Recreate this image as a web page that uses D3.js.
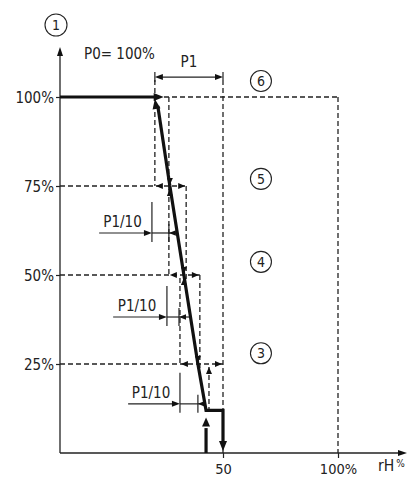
<!DOCTYPE html>
<html>
<head>
<meta charset="utf-8">
<script src="https://cdn.jsdelivr.net/npm/d3@7"></script>
<style>
  body { margin: 0; background: #fff; }
  svg { display: block; }
  text { font-family: "DejaVu Sans Condensed", "Liberation Sans Narrow", sans-serif; fill: #222; }
</style>
</head>
<body>
<div id="chart"></div>
<script>
// output levels (%) where the stages switch
const levels = [100, 75, 50, 25];
const lowStep = 12;
// hysteresis band of each stage, in rH %
const bandLeft = [29.1, 33.4, 36.8, 45.7];
const bandRight = [33.4, 38.7, 42.9, 50];
// control line  [rH, output]
const mainLine = [[29.1, 100], [33.7, 75], [38, 50], [42.3, 25], [44.8, 12]];
const stepLine = [[44.8, 12], [50, 12], [50, 0]];
const riseLine = [[44.8, 0], [44.8, 10]];
const topLine = [[0, 100], [31.8, 100]];
// P1 band
const p1Start = 29.1, p1End = 50, p1Level = 105.6;
// P1/10 marks
const p10Levels = [61.8, 38.2, 13.8];
const p10From = [12, 16.3, 20.9];
const p10Tick = [28.2, 32.8, 36.8];
const p10Tick2 = [33.4, 36.5, 42.3];
const p10To = [35.9, 39.9, 44.5];
// circled zone numbers
const zoneNames = ["6", "5", "4", "3"];
const zoneLevels = [104.5, 77, 53.7, 28];
const zoneRH = 66.5;
// axis ticks
const yTicks = [100, 75, 50, 25];
const yTickLabels = ["100%", "75%", "50%", "25%"];
const xTicks = [50, 100];
const xTickLabels = ["50", "100%"];

const width = 408, height = 479;

let svg = d3.select("#chart").append("svg")
  .attr("width", width)
  .attr("height", height);

// schematic axis: 0-50 and 50-100 are not drawn to the same length
let x = d3.scaleLinear().domain([0, 50, 100]).range([60, 223, 338]);
let y = d3.scaleLinear().domain([0, 100]).range([453, 97]);

let line = d3.line().x(d => x(d[0])).y(d => y(d[1]));

function head(tx, ty, ang, len, hw) {
  // arrow head with its tip at (tx,ty), pointing along ang (radians)
  let c = Math.cos(ang), s = Math.sin(ang);
  let bx = tx - c * len, by = ty - s * len;
  return "M" + tx + "," + ty +
    "L" + (bx - s * hw) + "," + (by + c * hw) +
    "L" + (bx + s * hw) + "," + (by - c * hw) + "Z";
}
const R = 0, L = Math.PI, D = Math.PI / 2, U = -Math.PI / 2;

function arrow(tx, ty, ang, len, hw) {
  svg.append("path").attr("d", head(tx, ty, ang, len, hw)).attr("fill", "#111");
}

function dashed(x1, y1, x2, y2) {
  svg.append("line")
    .attr("x1", x1).attr("y1", y1).attr("x2", x2).attr("y2", y2)
    .attr("stroke", "#222").attr("stroke-width", 1.3)
    .attr("stroke-dasharray", "5,3");
}
function solid(x1, y1, x2, y2, w) {
  svg.append("line")
    .attr("x1", x1).attr("y1", y1).attr("x2", x2).attr("y2", y2)
    .attr("stroke", "#222").attr("stroke-width", w || 1.2);
}

// ---- dashed guide lines
dashed(x(0), y(100), x(100), y(100));
for (let i = 1; i < levels.length; i++) {
  dashed(x(0), y(levels[i]), x(bandRight[i]), y(levels[i]));
}
for (let i = 0; i < levels.length; i++) {
  let top = i == 0 ? p1Level : levels[i];
  let bottom = i + 1 < levels.length ? levels[i + 1] : lowStep;
  dashed(x(bandLeft[i]), y(top) + 3, x(bandLeft[i]), y(bottom));
  if (i < levels.length - 1) {
    dashed(x(bandRight[i]), y(levels[i]), x(bandRight[i]), y(levels[i + 1]) + 4);
  }
}
dashed(x(p1End), y(p1Level) + 3, x(p1End), y(0));
dashed(x(100), y(100), x(100), y(0));

// ---- axes
solid(x(0), y(0), x(0), 52, 1.3);
arrow(x(0), 47, U, 9, 3);
solid(x(0), y(0), 401, y(0), 1.3);
arrow(407, y(0), R, 9, 3);

let yAxis = svg.append("g")
  .attr("transform", "translate(" + x(0) + ",0)")
  .call(d3.axisLeft(y).tickValues(yTicks).tickSize(4).tickPadding(2)
    .tickFormat((d, i) => yTickLabels[i]));
yAxis.select(".domain").remove();
yAxis.selectAll("line").attr("stroke", "#222").attr("stroke-width", 1.2);
yAxis.selectAll("text").attr("font-size", 15).attr("dy", "0.36em")
  .attr("font-family", null);

let xAxis = svg.append("g")
  .attr("transform", "translate(0," + y(0) + ")")
  .call(d3.axisBottom(x).tickValues(xTicks).tickSize(5).tickPadding(6)
    .tickFormat((d, i) => xTickLabels[i]));
xAxis.select(".domain").remove();
xAxis.selectAll("line").attr("stroke", "#222").attr("stroke-width", 1.2);
xAxis.selectAll("text").attr("font-size", 14.5).attr("font-family", null);

svg.append("text").attr("x", 378).attr("y", 471).attr("font-size", 15.5).text("rH")
  .append("tspan").attr("font-size", 10).attr("dx", 2).attr("dy", -4).text("%");

// ---- circled labels
function circled(cx, cy, r, label) {
  svg.append("circle").attr("cx", cx).attr("cy", cy).attr("r", r)
    .attr("fill", "none").attr("stroke", "#222").attr("stroke-width", 1.1);
  svg.append("text").attr("x", cx).attr("y", cy).attr("dy", "0.36em")
    .attr("text-anchor", "middle").attr("font-size", 14).text(label);
}
circled(56, 25, 11, "1");
zoneNames.forEach((n, i) => circled(x(zoneRH), y(zoneLevels[i]), 10.5, n));

svg.append("text").attr("x", 84).attr("y", 59).attr("font-size", 15).text("P0= 100%");

// ---- P1 dimension
let p1y = y(p1Level);
solid(x(p1Start), p1y - 5, x(p1Start), p1y + 5);
solid(x(p1End), p1y - 5, x(p1End), p1y + 3);
solid(x(p1Start) + 6, p1y, x(p1End) - 6, p1y);
arrow(x(p1Start), p1y, L, 8, 3);
arrow(x(p1End), p1y, R, 8, 3);
svg.append("text").attr("x", (x(p1Start) + x(p1End)) / 2).attr("y", p1y - 10)
  .attr("text-anchor", "middle").attr("font-size", 15).text("P1");

// ---- P1/10 marks
p10Levels.forEach((lv, i) => {
  let ly = y(lv);
  solid(x(p10From[i]), ly, x(p10Tick[i]) - 6, ly);
  arrow(x(p10Tick[i]), ly, R, 8, 3);
  solid(x(p10Tick[i]), ly - 31, x(p10Tick[i]), ly + 9);
  solid(x(p10Tick[i]), ly, x(p10To[i]), ly);
  solid(x(p10Tick2[i]), ly - 9, x(p10Tick2[i]), ly + 9);
  arrow(x(p10Tick2[i]), ly, L, 7, 2.8);
  svg.append("text").attr("x", (x(p10From[i]) + x(p10Tick[i])) / 2 - 3).attr("y", ly - 6)
    .attr("text-anchor", "middle").attr("font-size", 15).text("P1/10");
});

// ---- small hysteresis arrows at each switch level
function mainX(lv) {
  for (let i = 0; i < mainLine.length - 1; i++) {
    let a = mainLine[i], b = mainLine[i + 1];
    if (lv <= a[1] && lv >= b[1]) return a[0] + (b[0] - a[0]) * (a[1] - lv) / (a[1] - b[1]);
  }
  return mainLine[mainLine.length - 1][0];
}
for (let i = 1; i < levels.length; i++) {
  let ly = y(levels[i]);
  arrow(x(bandLeft[i - 1]) + 1, ly, L, 7, 3);
  arrow(x(bandRight[i]) - 1, ly, R, 7, 3);
  arrow(x(mainX(levels[i])), ly - 1, D, 7, 3);
  arrow(x(Math.max(mainX(levels[i]), bandLeft[i])), ly + 3, U, 7, 3);
}

// ---- thick control line
function thick(pts) {
  svg.append("path").attr("d", line(pts))
    .attr("fill", "none").attr("stroke", "#111").attr("stroke-width", 3.2)
    .attr("stroke-linejoin", "miter");
}
thick([topLine[0], [topLine[1][0] - 2.5, topLine[1][1]]]);
arrow(x(topLine[1][0]), y(topLine[1][1]), R, 10, 4);

let m0 = mainLine[0], m1 = mainLine[1];
let ang = Math.atan2(y(m0[1]) - y(m1[1]), x(m0[0]) - x(m1[0]));
thick(mainLine.slice(1).concat(stepLine.slice(1, 2)).concat([[50, 3]]));
svg.append("path").attr("d", line([[m0[0] + 0.9, m0[1] - 2.5], m1]))
  .attr("fill", "none").attr("stroke", "#111").attr("stroke-width", 3.2);
arrow(x(m0[0]), y(m0[1]) + 2, ang, 10, 4);
arrow(x(stepLine[2][0]), y(stepLine[2][1]) - 2, D, 10, 4);

thick([riseLine[0], [riseLine[0][0], riseLine[1][1] - 3]]);
arrow(x(riseLine[1][0]), y(riseLine[1][1]), U, 9, 4);
</script>
</body>
</html>
